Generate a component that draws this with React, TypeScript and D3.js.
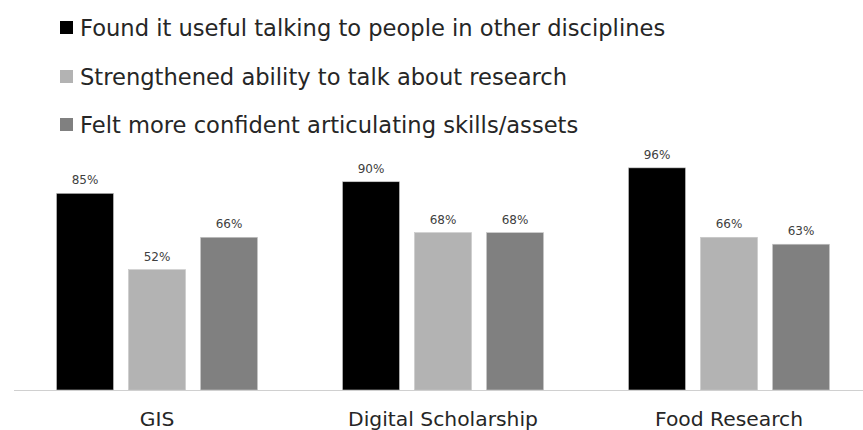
import React from "react";
import * as d3 from "d3";

const categories = ["GIS", "Digital Scholarship", "Food Research"];
const seriesNames = [
  "Found it useful talking to people in other disciplines",
  "Strengthened ability to talk about research",
  "Felt more confident articulating skills/assets",
];
const seriesColors = ["#000000", "#b3b3b3", "#808080"];
const usefulValues = [85, 90, 96];
const strengthenedValues = [52, 68, 66];
const confidentValues = [66, 68, 63];
const seriesValues = [usefulValues, strengthenedValues, confidentValues];

const W = 863;
const H = 430;
const FONT = "'DejaVu Sans', Arial, sans-serif";

export default function App() {
  const x0 = d3.scaleBand<string>().domain(categories).range([14, 872]).paddingInner(0).paddingOuter(0);
  const x1 = d3
    .scaleBand<number>()
    .domain([0, 1, 2])
    .range([0, x0.bandwidth()])
    .paddingInner(0.2083)
    .paddingOuter(0.59);
  const y = d3.scaleLinear().domain([0, 100]).range([390, 158.6]);

  const legendY = [28, 77, 125];

  return (
    <svg
      width={W}
      height={H}
      style={{ position: "absolute", left: 0, top: 0, display: "block", background: "#fff" }}
    >
      <rect x={0} y={0} width={W} height={H} fill="#fff" />
      {seriesNames.map((name, i) => (
        <g key={name}>
          <rect x={60} y={legendY[i] - 7} width={13} height={13} fill={seriesColors[i]} />
          <text x={80} y={legendY[i] + 8} fontFamily={FONT} fontSize={22.6} fill="#262626">
            {name}
          </text>
        </g>
      ))}
      {categories.map((cat, ci) => (
        <g key={cat} transform={`translate(${x0(cat)},0)`}>
          {seriesValues.map((vals, si) => {
            const v = vals[ci];
            const bx = x1(si) as number;
            return (
              <g key={si}>
                <rect
                  x={bx}
                  y={y(v)}
                  width={x1.bandwidth()}
                  height={y(0) - y(v)}
                  fill={seriesColors[si]}
                  stroke="#c8c8c8"
                  strokeWidth={0.6}
                />
                <text
                  x={bx + x1.bandwidth() / 2}
                  y={y(v) - 9}
                  textAnchor="middle"
                  fontFamily={FONT}
                  fontSize={12}
                  fill="#404040"
                >
                  {v}%
                </text>
              </g>
            );
          })}
          <text
            x={x0.bandwidth() / 2}
            y={426}
            textAnchor="middle"
            fontFamily={FONT}
            fontSize={20.3}
            fill="#262626"
          >
            {cat}
          </text>
        </g>
      ))}
      <line x1={14} x2={W} y1={390.5} y2={390.5} stroke="#d0d0d0" strokeWidth={1} />
    </svg>
  );
}
